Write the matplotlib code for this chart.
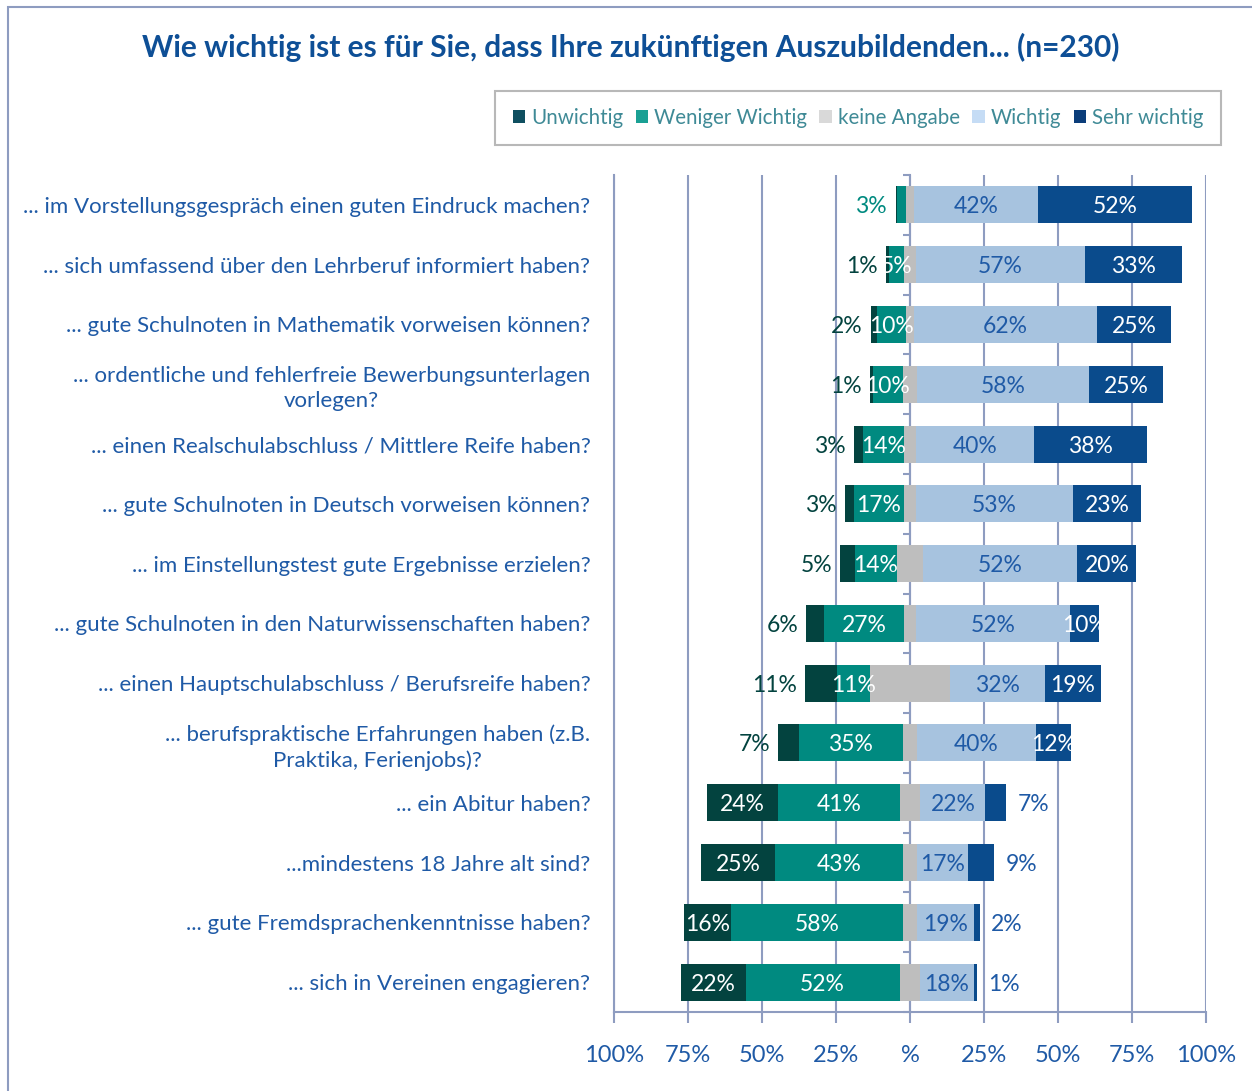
import numpy as np
import matplotlib
matplotlib.use('Agg')
import matplotlib.pyplot as plt
from matplotlib.patches import Rectangle, Patch

plt.rcParams['font.family'] = ['Lato', 'DejaVu Sans']

# Daten (in %), von oben nach unten
kategorien = [
    '... im Vorstellungsgespräch einen guten Eindruck machen?',
    '... sich umfassend über den Lehrberuf informiert haben?',
    '... gute Schulnoten in Mathematik vorweisen können?',
    '... ordentliche und fehlerfreie Bewerbungsunterlagen\nvorlegen?',
    '... einen Realschulabschluss / Mittlere Reife haben?',
    '... gute Schulnoten in Deutsch vorweisen können?',
    '... im Einstellungstest gute Ergebnisse erzielen?',
    '... gute Schulnoten in den Naturwissenschaften haben?',
    '... einen Hauptschulabschluss / Berufsreife haben?',
    '... berufspraktische Erfahrungen haben (z.B.\nPraktika, Ferienjobs)?',
    '... ein Abitur haben?',
    '...mindestens 18 Jahre alt sind?',
    '... gute Fremdsprachenkenntnisse haben?',
    '... sich in Vereinen engagieren?',
]
unwichtig = [0.4, 1, 2, 1, 3, 3, 5, 6, 11, 7, 24, 25, 16, 22]
weniger_wichtig = [3, 5, 10, 10, 14, 17, 14, 27, 11, 35, 41, 43, 58, 52]
keine_angabe = [2.6, 4, 2.5, 5, 4, 4, 9, 4, 27, 5, 7, 5, 5, 7]
wichtig = [42, 57, 62, 58, 40, 53, 52, 52, 32, 40, 22, 17, 19, 18]
sehr_wichtig = [52, 33, 25, 25, 38, 23, 20, 10, 19, 12, 7, 9, 2, 1]

tick_werte = [-100, -75, -50, -25, 0, 25, 50, 75, 100]
tick_texte = ['100%', '75%', '50%', '25%', '%', '25%', '50%', '75%', '100%']

farben = {
    'Unwichtig': '#03433F',
    'Weniger Wichtig': '#008A80',
    'keine Angabe': '#BEBEBE',
    'Wichtig': '#A7C3DF',
    'Sehr wichtig': '#0A4B8C',
}
legenden_farben = ['#0F4F60', '#1AA094', '#D9D9D9', '#C5DCF5', '#0B3D7A']
textblau = '#1F5AA6'
gitterfarbe = '#8E9CC0'
fs = 16.5

fig = plt.figure(figsize=(12.52, 10.91), dpi=100)
ax = fig.add_axes([614 / 1252, 1 - 1012 / 1091, 592 / 1252, 837 / 1091])

y = np.arange(len(kategorien))
u = np.array(unwichtig)
w = np.array(weniger_wichtig)
k = np.array(keine_angabe)
wi = np.array(wichtig)
s = np.array(sehr_wichtig)

start = -(u + w + k / 2)
hoehe = 0.62
ax.set_axisbelow(True)
for xv in tick_werte:
    ax.axvline(xv, color=gitterfarbe, lw=1.5, zorder=0)

segmente = [('Unwichtig', u), ('Weniger Wichtig', w), ('keine Angabe', k),
            ('Wichtig', wi), ('Sehr wichtig', s)]
va = 'center_baseline'
links = start.copy()
for name, werte in segmente:
    ax.barh(y, werte, left=links, height=hoehe, color=farben[name], zorder=2)
    mitte = links + werte / 2
    for i in range(len(y)):
        v = werte[i]
        txt = f'{v:.0f}%'
        if name == 'Unwichtig':
            if v < 0.5:
                continue
            if v >= 15:
                ax.text(mitte[i], y[i], txt, color='white', ha='center', va=va, fontsize=fs, zorder=3)
            else:
                ax.annotate(txt, (start[i], y[i]), xytext=(-6, 0), textcoords='offset points',
                            color=farben[name], ha='right', va=va, fontsize=fs)
        elif name == 'Weniger Wichtig':
            if v >= 4:
                ax.text(mitte[i], y[i], txt, color='white', ha='center', va=va, fontsize=fs, zorder=3)
            else:
                ax.annotate(txt, (start[i], y[i]), xytext=(-7, 0), textcoords='offset points',
                            color=farben[name], ha='right', va=va, fontsize=fs)
        elif name == 'Wichtig':
            ax.text(mitte[i], y[i], txt, color=textblau, ha='center', va=va, fontsize=fs, zorder=3)
        elif name == 'Sehr wichtig':
            if v >= 10:
                ax.text(mitte[i], y[i], txt, color='white', ha='center', va=va, fontsize=fs, zorder=3)
            else:
                ax.annotate(txt, (links[i] + v, y[i]), xytext=(8, 0), textcoords='offset points',
                            color=textblau, ha='left', va=va, fontsize=fs)
    links = links + werte

ax.set_xlim(-100, 100)
ax.set_ylim(len(kategorien) - 0.5, -0.5)
ax.set_yticks(y)
ax.set_yticklabels(kategorien, fontsize=16, color=textblau, multialignment='center', linespacing=1.3)
ax.tick_params(axis='y', length=0, pad=17)
ax.set_xticks(tick_werte)
ax.set_xticklabels(tick_texte, fontsize=17, color=textblau)
ax.tick_params(axis='x', direction='out', length=8, width=1.5, color=gitterfarbe, pad=16)
for sp in ['top', 'right']:
    ax.spines[sp].set_visible(False)
for sp in ['left', 'bottom']:
    ax.spines[sp].set_color(gitterfarbe)
    ax.spines[sp].set_linewidth(1.5)

# Nullachse mit Teilstrichen zwischen den Kategorien
sek = ax.secondary_yaxis(0, transform=ax.transData)
sek.set_yticks(np.arange(len(kategorien) + 1) - 0.5)
sek.set_yticklabels([])
sek.tick_params(length=5, width=1.5, color=gitterfarbe)
sek.spines['left'].set_color(gitterfarbe)
sek.spines['left'].set_linewidth(1.5)

fig.text(631 / 1252, 1 - 47 / 1091, 'Wie wichtig ist es für Sie, dass Ihre zukünftigen Auszubildenden... (n=230)',
         ha='center', va='center', fontsize=21.5, fontweight='bold', color='#0E4F96')

handles = [Patch(facecolor=c) for c in legenden_farben]
leg = fig.legend(handles, list(farben.keys()), loc='center',
                 bbox_to_anchor=(858 / 1252, 1 - 118 / 1091), ncol=5, fontsize=14.8,
                 frameon=True, fancybox=False, edgecolor='#A6A6A6', handlelength=0.6,
                 handleheight=0.6, handletextpad=0.3, columnspacing=0.6, borderpad=0.85)
for t in leg.get_texts():
    t.set_color('#3F8A96')
leg.get_frame().set_linewidth(1.5)

fig.add_artist(Rectangle((8 / 1252, -0.05), 1.2, 1.05 - 7 / 1091, transform=fig.transFigure,
                         fill=False, edgecolor=gitterfarbe, lw=1.5))

fig.savefig('out.png', dpi=100)
